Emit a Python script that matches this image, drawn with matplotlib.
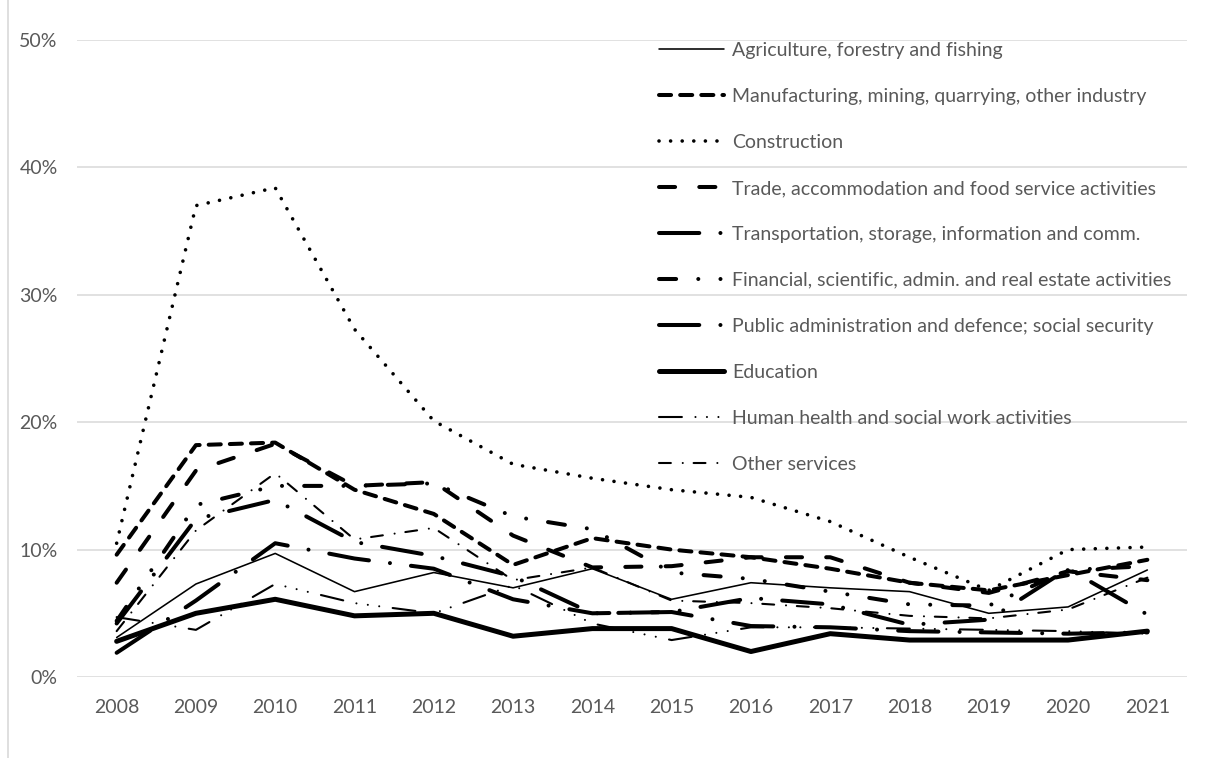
import matplotlib.pyplot as plt
from matplotlib.lines import Line2D
from matplotlib.ticker import FuncFormatter

years = ['2008', '2009', '2010', '2011', '2012', '2013', '2014',
         '2015', '2016', '2017', '2018', '2019', '2020', '2021']

# shares in %, by economic activity
agriculture = [3.1, 7.3, 9.7, 6.7, 8.2, 7.0, 8.5, 6.1, 7.4, 7.0, 6.7, 5.0, 5.5, 8.4]
manufacturing = [9.6, 18.2, 18.4, 14.7, 12.8, 8.8, 10.9, 10.0, 9.4, 8.5, 7.4, 6.8, 8.0, 9.2]
construction = [10.5, 37.0, 38.4, 27.3, 20.1, 16.7, 15.6, 14.7, 14.1, 12.2, 9.4, 6.8, 10.0, 10.2]
trade = [7.4, 16.2, 18.3, 15.0, 15.3, 11.1, 8.6, 8.7, 9.4, 9.4, 7.4, 6.6, 8.3, 7.6]
transport = [4.2, 12.4, 13.9, 10.6, 9.5, 7.9, 5.0, 5.1, 6.2, 5.7, 4.1, 4.5, 8.5, 4.9]
financial = [4.4, 13.5, 15.0, 15.0, 15.2, 12.6, 11.6, 8.2, 7.7, 6.7, 5.7, 5.6, 8.4, 8.7]
public_admin = [1.9, 6.0, 10.5, 9.3, 8.5, 6.1, 5.0, 5.1, 4.0, 3.9, 3.6, 3.5, 3.4, 3.5]
education = [2.8, 5.0, 6.1, 4.8, 5.0, 3.2, 3.8, 3.8, 2.0, 3.4, 2.9, 2.9, 2.9, 3.6]
health = [4.7, 3.7, 7.3, 5.8, 5.0, 7.2, 4.2, 2.9, 3.9, 3.9, 3.8, 3.7, 3.6, 3.4]
other = [3.6, 11.5, 16.0, 10.8, 11.7, 7.6, 8.6, 6.0, 5.8, 5.4, 4.8, 4.6, 5.3, 7.8]

labels = ['Agriculture, forestry and fishing',
          'Manufacturing, mining, quarrying, other industry',
          'Construction',
          'Trade, accommodation and food service activities',
          'Transportation, storage, information and comm.',
          'Financial, scientific, admin. and real estate activities',
          'Public administration and defence; social security',
          'Education',
          'Human health and social work activities',
          'Other services']

series = [agriculture, manufacturing, construction, trade, transport,
          financial, public_admin, education, health, other]

# (linewidth in pt, dash pattern in units of linewidth)
styles = [
    (1.15, '-'),
    (2.9, (0, (3.0, 2.25))),
    (2.6, (0, (0.01, 3.2))),
    (2.9, (0, (4.0, 6.0))),
    (2.9, (0, (10, 5.25, 0.01, 5.25))),
    (2.9, (0, (4.25, 5.5, 0.01, 5.5, 0.01, 5.5))),
    (2.9, (0, (10, 5.25, 0.01, 5.25))),
    (3.6, '-'),
    (1.5, (0, (11, 6.5, 0.01, 5.5, 0.01, 5.5, 0.01, 6.5))),
    (1.5, (0, (5.7, 5.7, 0.01, 5.2))),
]

plt.rcParams['font.family'] = ['Lato', 'DejaVu Sans']
grey = '#595959'

fig = plt.figure(figsize=(12.11, 7.58), dpi=100)
ax = fig.add_axes([77 / 1211, 81 / 758, 1110 / 1211, 637 / 758])

x = range(len(years))
for vals, lab, (lw, ls) in zip(series, labels, styles):
    ax.plot(x, vals, color='black', lw=lw, linestyle=ls, label=lab,
            dash_capstyle='round', solid_capstyle='round',
            solid_joinstyle='round', dash_joinstyle='round')

ax.set_xlim(-0.5, len(years) - 0.5)
ax.set_ylim(0, 50)
ax.set_yticks([0, 10, 20, 30, 40, 50])
ax.yaxis.set_major_formatter(FuncFormatter(lambda v, p: f'{v:.0f}%'))
ax.set_xticks(list(x))
ax.set_xticklabels(years)
ax.grid(axis='y', color='#d9d9d9', lw=1.1)
ax.set_axisbelow(True)
for s in ax.spines.values():
    s.set_visible(False)
ax.tick_params(length=0, labelsize=14, colors=grey)
ax.tick_params(axis='x', pad=16)
ax.tick_params(axis='y', pad=14)

leg = ax.legend(loc='upper left', bbox_to_anchor=(659 / 1211, 1 - 42 / 758),
                bbox_transform=fig.transFigure, frameon=False, fontsize=14,
                handlelength=3.34, handletextpad=0.41, labelspacing=1.49,
                borderpad=0, borderaxespad=0)
for t in leg.get_texts():
    t.set_color(grey)

# chart area border on the left
fig.add_artist(Line2D([8 / 1211, 8 / 1211], [0, 1], transform=fig.transFigure,
                      color='#d9d9d9', lw=1.2))

fig.savefig('out.png', dpi=100)
